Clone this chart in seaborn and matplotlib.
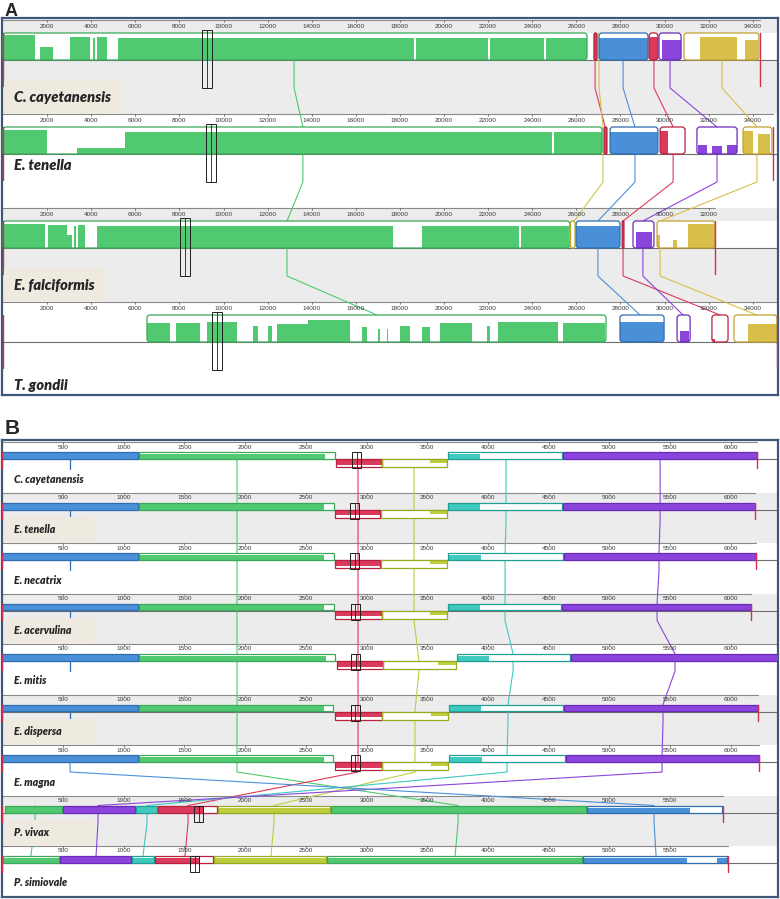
import matplotlib
matplotlib.use("Agg")
import matplotlib.pyplot as plt
from matplotlib.patches import Rectangle, FancyBboxPatch
import seaborn as sns

sns.set_theme(style="white")
plt.rcParams["font.family"] = ["Liberation Sans", "DejaVu Sans"]

W, H = 780, 899
FILL = {"green": "#50c970", "blue": "#4a90d8", "red": "#dc3a5c", "purple": "#8b45dc",
        "yellow": "#d8bf4c", "khaki": "#cfc552", "olive": "#bdcd3e", "cyan": "#3fc9bf"}
EDGE = {"green": "#3aa95a", "blue": "#2f6db0", "red": "#b8203f", "purple": "#6a2cb8",
        "yellow": "#c2a232", "khaki": "#b8ab30", "olive": "#98aa20", "cyan": "#1fa096"}
GRAY, BEIGE, FRAME, MARK = "#ececec", "#eeeadf", "#3d5778", "#d2304e"
LABEL_FONT = dict(family=["Lato", "DejaVu Sans"], weight="heavy", style="italic")

# ---------------- panel A (bp) ----------------
A_NAMES = ["C. cayetanensis", "E. tenella", "E. falciformis", "T. gondii"]
A_LENGTHS = [34330, 34920, 32290, 35100]

A_BLOCKS_CCAY = [("green", 0, 26485, 1), ("red", 26800, 26940, 1), ("blue", 27030, 29250, 1),
                 ("red", 29300, 29700, 1), ("purple", 29750, 30750, 1), ("yellow", 30880, 34280, 1)]
A_BLOCKS_ETEN = [("green", 0, 27165, 1), ("red", 27260, 27390, 1), ("blue", 27530, 29700, 1),
                 ("red", 29800, 30930, 1), ("purple", 31470, 33290, 1), ("yellow", 33560, 34870, 1)]
A_BLOCKS_EFAL = [("green", 0, 25710, 1), ("khaki", 25740, 25940, 1), ("blue", 25990, 27980, 1),
                 ("red", 28080, 28160, 1), ("purple", 28570, 29520, 1), ("yellow", 29660, 32290, 1)]
A_BLOCKS_TGON = [("green", 6530, 27345, 1), ("blue", 27980, 29980, 1), ("purple", 30570, 31160, 1),
                 ("red", 32150, 32880, 1), ("yellow", 33150, 35100, 1)]

A_FILL_CCAY = [("green", 0, 1450, .92), ("green", 1700, 2250, .5), ("green", 3040, 3950, .85),
               ("green", 4080, 4170, .8), ("green", 4260, 4720, .85), ("green", 5215, 18620, .8),
               ("green", 18720, 21990, .82), ("green", 22090, 24530, .8), ("green", 24630, 26485, .8),
               ("red", 26800, 26940, 1), ("blue", 27030, 29250, .8), ("red", 29300, 29700, .85),
               ("purple", 29900, 30750, .75), ("yellow", 31610, 33290, .85), ("yellow", 33650, 34240, .75)]
A_FILL_ETEN = [("green", 0, 1990, .9), ("green", 3360, 5530, .22), ("green", 5530, 24900, .8),
               ("green", 24990, 27165, .82), ("red", 27260, 27390, 1), ("blue", 27530, 29700, .8),
               ("red", 29800, 30170, .85), ("purple", 31520, 31930, .35), ("purple", 32150, 32610, .3),
               ("purple", 32830, 33290, .35), ("yellow", 33560, 34010, .85), ("yellow", 34240, 34780, .75)]
A_FILL_EFAL = [("green", 0, 1905, .88), ("green", 2040, 2900, .85), ("green", 2900, 3130, .5),
               ("green", 3220, 3310, .8), ("green", 3400, 3720, .85), ("green", 4260, 17690, .82),
               ("green", 19000, 23400, .8), ("green", 23500, 25650, .8), ("blue", 25990, 27980, .8),
               ("red", 28080, 28160, 1), ("purple", 28700, 29450, .6), ("yellow", 29660, 29800, .5),
               ("yellow", 30400, 30560, .3), ("yellow", 31065, 32290, .88)]
A_FILL_TGON = [("green", 6530, 7573, .7), ("green", 7846, 8934, .72), ("green", 9251, 10612, .75),
               ("green", 11338, 11564, .6), ("green", 12018, 12199, .6), ("green", 12426, 13830, .68),
               ("green", 13830, 15736, .82), ("green", 16281, 16507, .55), ("green", 17006, 17097, .5),
               ("green", 17414, 17460, .5), ("green", 18004, 18458, .6), ("green", 19002, 19365, .55),
               ("green", 19818, 21270, .7), ("green", 21950, 22086, .6), ("green", 22449, 25170, .75),
               ("green", 25396, 27301, .72), ("blue", 27980, 29980, .75), ("purple", 30700, 31100, .4),
               ("red", 32150, 32300, .1), ("yellow", 33790, 35100, .65)]

A_LINKS = [("green", [13200, 13600, 12880, 16960]),
           ("red", [26850, 27310, None, None]),
           ("khaki", [27030, 27210, 25900, None]),
           ("blue", [28120, 28660, 26980, 28890]),
           ("red", [29520, 30390, 28120, 32520]),
           ("purple", [30250, 32380, 29020, 30840]),
           ("yellow", [32610, 34190, 29800, 34190])]
A_CURSOR = [9250, 9455, 8254, 9683]

# ---------------- panel B (bp) ----------------
B_NAMES = ["C. cayetanensis", "E. tenella", "E. necatrix", "E. acervulina", "E. mitis",
           "E. dispersa", "E. magna", "P. vivax", "P. simiovale"]
B_LENGTHS = [6216, 6200, 6208, 6167, 6406, 6225, 6233, 5936, 5977]

B_BLOCKS_CCAY = [("blue", 0, 1118, 1), ("green", 1126, 2740, 1), ("red", 2748, 3128, -1),
                 ("olive", 3128, 3663, -1), ("cyan", 3671, 4610, 1), ("purple", 4618, 6216, 1)]
B_BLOCKS_ETEN = [("blue", 0, 1118, 1), ("green", 1126, 2732, 1), ("red", 2740, 3111, -1),
                 ("olive", 3119, 3663, -1), ("cyan", 3671, 4610, 1), ("purple", 4618, 6200, 1)]
B_BLOCKS_ENEC = [("blue", 0, 1118, 1), ("green", 1126, 2732, 1), ("red", 2740, 3111, -1),
                 ("olive", 3119, 3663, -1), ("cyan", 3671, 4618, 1), ("purple", 4626, 6208, 1)]
B_BLOCKS_EACE = [("blue", 0, 1118, 1), ("green", 1126, 2732, 1), ("red", 2740, 3128, -1),
                 ("olive", 3128, 3663, -1), ("cyan", 3671, 4602, 1), ("purple", 4610, 6167, 1)]
B_BLOCKS_EMIT = [("blue", 0, 1118, 1), ("green", 1126, 2740, 1), ("red", 2757, 3136, -1),
                 ("olive", 3136, 3737, -1), ("cyan", 3745, 4676, 1), ("purple", 4684, 6406, 1)]
B_BLOCKS_EDIS = [("blue", 0, 1118, 1), ("green", 1126, 2724, 1), ("red", 2740, 3128, -1),
                 ("olive", 3128, 3671, -1), ("cyan", 3679, 4618, 1), ("purple", 4626, 6225, 1)]
B_BLOCKS_EMAG = [("blue", 0, 1118, 1), ("green", 1126, 2724, 1), ("red", 2740, 3128, -1),
                 ("olive", 3128, 3671, -1), ("cyan", 3679, 4635, 1), ("purple", 4643, 6233, 1)]
B_BLOCKS_PVIV = [("green", 22, 492, 1), ("purple", 500, 1093, 1), ("cyan", 1101, 1274, 1),
                 ("red", 1282, 1768, 1), ("olive", 1777, 2699, 1), ("green", 2707, 4808, 1),
                 ("blue", 4816, 5928, 1)]
B_BLOCKS_PSIM = [("green", 6, 467, 1), ("purple", 475, 1060, 1), ("cyan", 1068, 1250, 1),
                 ("red", 1258, 1736, 1), ("olive", 1744, 2666, 1), ("green", 2674, 4775, 1),
                 ("blue", 4783, 5969, 1)]

B_FILL_CCAY = [("blue", 0, 1118, .8), ("green", 1126, 2658, .72), ("red", 2748, 3128, .7),
               ("olive", 3520, 3663, .5), ("cyan", 3671, 3935, .75), ("purple", 4618, 6216, .8)]
B_FILL_ETEN = [("blue", 0, 1118, .8), ("green", 1126, 2650, .72), ("red", 2740, 3111, .7),
               ("olive", 3520, 3663, .5), ("cyan", 3671, 3935, .75), ("purple", 4618, 6200, .8)]
B_FILL_ENEC = [("blue", 0, 1118, .8), ("green", 1126, 2650, .72), ("red", 2740, 3111, .7),
               ("olive", 3520, 3663, .5), ("cyan", 3671, 3940, .75), ("purple", 4626, 6208, .8)]
B_FILL_EACE = [("blue", 0, 1118, .8), ("green", 1126, 2650, .72), ("red", 2740, 3128, .7),
               ("olive", 3520, 3663, .5), ("cyan", 3671, 3935, .75), ("purple", 4610, 6167, .8)]
B_FILL_EMIT = [("blue", 0, 1118, .8), ("green", 1126, 2665, .72), ("red", 2757, 3136, .7),
               ("olive", 3590, 3737, .5), ("cyan", 3745, 4010, .75), ("purple", 4684, 6406, .8)]
B_FILL_EDIS = [("blue", 0, 1118, .8), ("green", 1126, 2650, .72), ("red", 2740, 3128, .7),
               ("olive", 3530, 3671, .5), ("cyan", 3679, 3945, .75), ("purple", 4626, 6225, .8)]
B_FILL_EMAG = [("blue", 0, 1118, .8), ("green", 1126, 2650, .72), ("red", 2740, 3128, .7),
               ("olive", 3530, 3671, .5), ("cyan", 3679, 3950, .75), ("purple", 4643, 6233, .8)]
B_FILL_PVIV = [("green", 22, 492, .75), ("purple", 500, 1093, .8), ("cyan", 1101, 1274, .75),
               ("red", 1282, 1654, .75), ("olive", 1777, 2699, .7), ("green", 2707, 4808, .75),
               ("blue", 4816, 5665, .7)]
B_FILL_PSIM = [("green", 6, 467, .75), ("purple", 475, 1060, .8), ("cyan", 1068, 1250, .75),
               ("red", 1258, 1628, .75), ("olive", 1744, 2666, .7), ("green", 2674, 4775, .75),
               ("blue", 4783, 5640, .7), ("blue", 5887, 5969, .7)]

B_LINKS = [("green", [1933, 1933, 1933, 1933, 1933, 1933, 1933, 3754, 3729]),
           ("red", [2930, 2930, 2930, 2930, 2930, 2930, 2930, 1530, 1505]),
           ("olive", [3391, 3391, 3391, 3391, 3432, 3399, 3399, 2238, 2213]),
           ("cyan", [4149, 4149, 4141, 4141, 4207, 4165, 4157, 1192, 1159]),
           ("purple", [5418, 5418, 5409, 5393, 5541, 5442, 5434, 788, 772]),
           ("blue", [None, None, None, None, None, None, 558, 5368, 5385]),
           ("green", [None, None, None, None, None, None, None, 269, 236])]
B_STUBS = [("blue", [558, 558, 558, 558, 558, 558, None, None, None])]
B_CURSOR = [2918, 2901, 2901, 2905, 2913, 2905, 2905, 1616, 1587]

# layout (pixels)
GEOM_A = dict(top=20, bottom=395, row=94, ruler=6.5, blk=13, line=40, rev=40, low=68,
              cur=(10, 68), cur_w=10, mark=(13, 66), rnd=3, tick_fs=4.6, label_fs=10.5,
              step=2000, xlim=(-45, 35146), gray=(0, 2), white_strip=True,
              label_dy=[77, 51, 77, 83])
GEOM_B = dict(top=442, bottom=897, row=50.5, ruler=5, blk=10, line=17, rev=25, low=27,
              cur=(10, 26), cur_w=9, mark=(10, 26), rnd=0, tick_fs=4.6, label_fs=7.6,
              step=500, xlim=(-2.5, 6389), gray=(1, 3, 5, 7), white_strip=False,
              label_dy=[37] * 9)


def panel_ax(fig, g):
    ax = fig.add_axes([2 / W, 1 - g["bottom"] / H, 776 / W, (g["bottom"] - g["top"] + 2) / H])
    ax.set_xlim(*g["xlim"])
    ax.set_ylim(g["bottom"], g["top"] - 2)
    ax.set_xticks([]); ax.set_yticks([])
    for s in ax.spines.values():
        s.set_color(FRAME); s.set_linewidth(1.6)
    return ax


def draw_panel(ax, g, names, lengths, blocks, fills, links, stubs, cursor):
    x0, x1 = ax.get_xlim()
    per_px = (x1 - x0) / 776
    px = lambda v: x0 + (v - 2) * per_px
    row_top = lambda i: g["top"] + i * g["row"]

    def block_at(i, pos):
        for c, s, e, st in blocks[i]:
            if s <= pos <= e:
                return st
        return 1

    def shape(s, e, y, h, **kw):
        r = min(g["rnd"] * per_px, (e - s) / 2, h * per_px / 2)
        style = f"round,pad=0,rounding_size={r}" if r > 0 else "square,pad=0"
        return FancyBboxPatch((s, y), e - s, h, boxstyle=style, mutation_aspect=1 / per_px, **kw)

    for i, name in enumerate(names):
        top, length = row_top(i), lengths[i]
        if i in g["gray"]:
            ax.add_patch(Rectangle((x0, top), x1 - x0, g["row"], fc=GRAY, ec="none", zorder=0))
            if g["white_strip"]:
                ax.add_patch(Rectangle((x0, top + g["blk"]), x1 - x0, g["line"] - g["blk"],
                                       fc="white", ec="none", zorder=0.5))
        ax.plot([x0, length], [top, top], color="#8a8a8a", lw=0.8, zorder=1)
        ax.plot([x0, x1], [top + g["line"]] * 2, color="#6e6e6e", lw=0.8, zorder=1)
        for t in range(g["step"], length, g["step"]):
            ax.text(t, top + g["ruler"], str(t), ha="center", va="center",
                    fontsize=g["tick_fs"], color="#3a3a3a", zorder=6)
            ax.plot([t, t], [top, top + 1.5], color="#555555", lw=0.5, zorder=6)

        bases = []
        for color, s, e, st in blocks[i]:
            y = top + (g["blk"] if st > 0 else g["line"])
            h = (g["line"] - g["blk"]) if st > 0 else (g["rev"] - g["line"])
            base = shape(s, e, y, h, fc="white", ec="none", zorder=3)
            ax.add_patch(base)
            ax.add_patch(shape(s, e, y, h, fc="none", ec=EDGE[color], lw=0.9, zorder=5))
            bases.append((color, s, e, st, h, base))
        for color, s, e, frac in fills[i]:
            mid = (s + e) / 2
            c, bs, be, st, h, base = next(b for b in bases if b[0] == color and b[1] <= mid <= b[2])
            hh = frac * h
            y = top + g["line"] - hh if st > 0 else top + g["line"]
            rect = Rectangle((s, y), e - s, hh, fc=FILL[color], ec="none", zorder=4)
            ax.add_patch(rect)
            rect.set_clip_path(base)

        for xm in (0, length):
            ax.plot([xm, xm], [top + g["mark"][0], top + g["mark"][1]], color=MARK, lw=1.0, zorder=5)

        c = cursor[i]
        w = g["cur_w"] * per_px
        ax.add_patch(Rectangle((c - w / 2, top + g["cur"][0]), w, g["cur"][1] - g["cur"][0],
                               fill=False, ec="#1e1e1e", lw=0.7, zorder=6))
        ax.plot([c, c], [top + g["cur"][0], top + g["cur"][1]], color="#1e1e1e", lw=0.6, zorder=6)

        ly = top + g["label_dy"][i]
        if i in g["gray"]:
            if g["white_strip"]:
                ax.text(px(14), ly, name, fontsize=g["label_fs"], va="center", zorder=8,
                        bbox=dict(boxstyle="square,pad=0.7", fc=BEIGE, ec="none"), **LABEL_FONT)
                continue
            ax.add_patch(Rectangle((px(5), top + 24), 90 * per_px, 26, fc=BEIGE, ec="none", zorder=7))
        ax.text(px(14), ly, name, fontsize=g["label_fs"], va="center", zorder=8, **LABEL_FONT)

    for color, pos in links:
        xs, ys = [], []
        for i, v in enumerate(pos):
            if v is None:
                if xs:
                    ax.plot(xs, ys, color=FILL[color], lw=0.8, zorder=2)
                xs, ys = [], []
                continue
            top = row_top(i)
            st = block_at(i, v)
            last = i == len(pos) - 1 or pos[i + 1] is None
            y_in = top + (g["blk"] if st > 0 else g["line"])
            y_out = top + ((g["line"] if st > 0 else g["rev"]) if last else g["low"])
            xs += [v, v]
            ys += [y_in, y_out]
        if xs:
            ax.plot(xs, ys, color=FILL[color], lw=0.8, zorder=2)

    for color, pos in stubs:
        for i, v in enumerate(pos):
            if v is None:
                continue
            top = row_top(i)
            y0 = top + (g["line"] if block_at(i, v) > 0 else g["rev"])
            ax.plot([v, v], [y0, top + g["low"]], color=EDGE[color], lw=0.9, zorder=2)


fig = plt.figure(figsize=(W / 100, H / 100), dpi=100, facecolor="white")

ax_a = panel_ax(fig, GEOM_A)
draw_panel(ax_a, GEOM_A, A_NAMES, A_LENGTHS,
           [A_BLOCKS_CCAY, A_BLOCKS_ETEN, A_BLOCKS_EFAL, A_BLOCKS_TGON],
           [A_FILL_CCAY, A_FILL_ETEN, A_FILL_EFAL, A_FILL_TGON],
           A_LINKS, [], A_CURSOR)

ax_b = panel_ax(fig, GEOM_B)
draw_panel(ax_b, GEOM_B, B_NAMES, B_LENGTHS,
           [B_BLOCKS_CCAY, B_BLOCKS_ETEN, B_BLOCKS_ENEC, B_BLOCKS_EACE, B_BLOCKS_EMIT,
            B_BLOCKS_EDIS, B_BLOCKS_EMAG, B_BLOCKS_PVIV, B_BLOCKS_PSIM],
           [B_FILL_CCAY, B_FILL_ETEN, B_FILL_ENEC, B_FILL_EACE, B_FILL_EMIT,
            B_FILL_EDIS, B_FILL_EMAG, B_FILL_PVIV, B_FILL_PSIM],
           B_LINKS, B_STUBS, B_CURSOR)

fig.text(5 / W, 1 - 11 / H, "A", fontsize=13, weight="bold", va="center", ha="left")
fig.text(5 / W, 1 - 428 / H, "B", fontsize=15, weight="bold", va="center", ha="left")

fig.savefig("out.png", dpi=100, facecolor="white")
